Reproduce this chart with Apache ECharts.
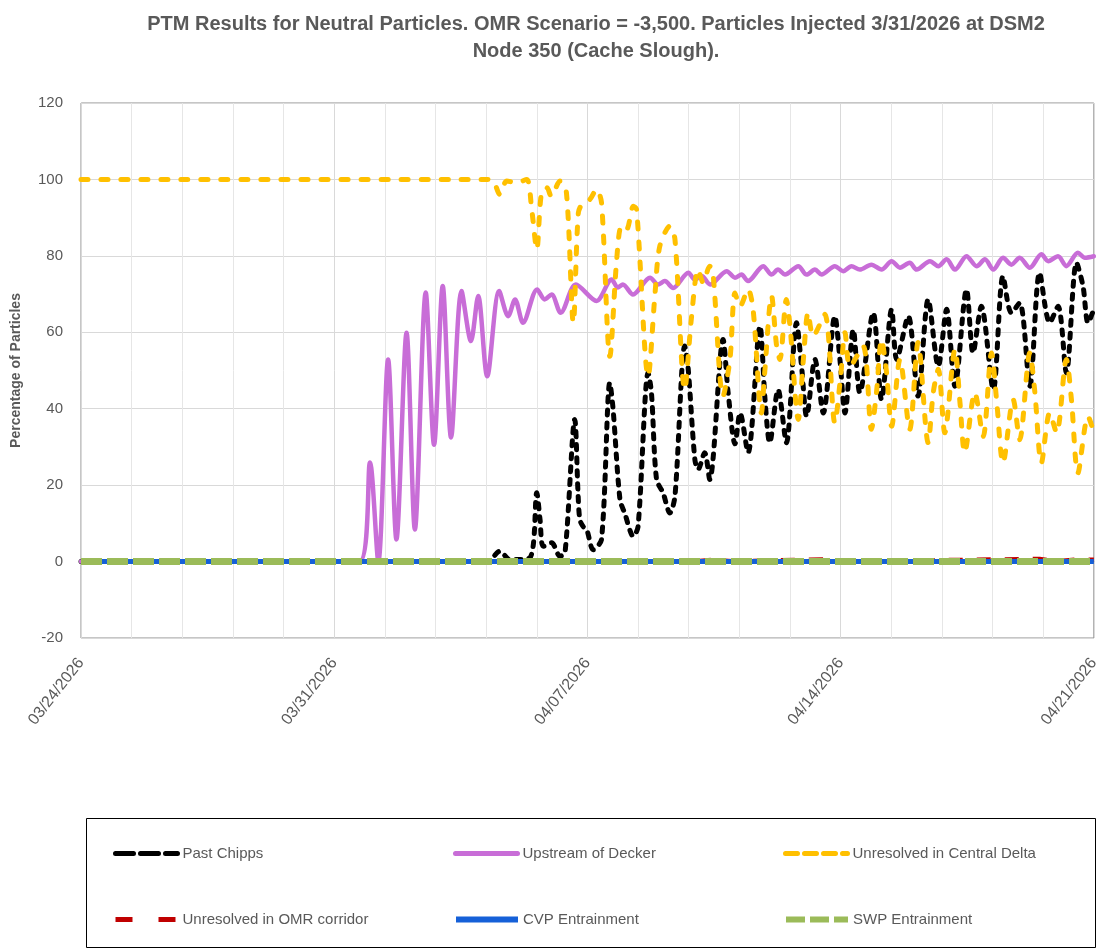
<!DOCTYPE html>
<html>
<head>
<meta charset="utf-8">
<title>PTM Results - Cache Slough</title>
<script src="https://cdn.jsdelivr.net/npm/echarts@6/dist/echarts.min.js"></script>
<style>
  html, body { margin: 0; padding: 0; background: #fff; }
  #chart { width: 1102px; height: 950px; }
</style>
</head>
<body>
<div id="chart"></div>
<script>
// days since 03/24/2026, percentage of particles
const startDate = [2026, 2, 24]

const chippsDay = [0, 11.2, 11.35, 11.58, 11.86, 12.41, 12.6, 12.69, 12.78, 13.01, 13.24, 13.38, 13.65, 13.74, 13.79, 13.88, 13.98, 14.16, 14.39, 14.62, 14.71, 14.9, 15.03, 15.27, 15.4, 15.68, 15.77, 15.91, 16.09, 16.28, 16.42, 16.69, 16.78, 16.97, 17.06, 17.24, 17.38, 17.75, 17.89, 18.08, 18.22, 18.44, 18.77, 18.91, 19.04, 19.27, 19.5, 19.78, 19.92, 20.06, 20.29, 20.52, 20.84, 20.98, 21.12, 21.35, 21.53, 21.9, 22.13, 22.41, 22.55, 22.87, 23.14, 23.42, 23.7, 23.93, 24.16, 24.48, 24.66, 24.89, 25.22, 25.49, 25.72, 25.95, 26.23, 26.5, 26.78, 27.01, 27.24, 27.52, 27.7, 27.84, 28]
const chippsPct = [0, 0, 0.8, 2.7, 0.5, 1.0, 18.0, 11.0, 4.0, 4.9, 1.4, 2.3, 37.2, 18.0, 11.0, 9.2, 8.4, 3.1, 5.8, 46.8, 39.8, 16.2, 12.7, 6.6, 9.2, 49.4, 44.2, 21.5, 18.0, 12.7, 17.1, 56.4, 51.1, 26.7, 24.1, 28.5, 21.5, 58.1, 44.2, 30.8, 38.9, 28.5, 61.6, 42.4, 31.1, 45.0, 31.1, 62.5, 51.1, 38.0, 52.9, 38.9, 64.2, 52.9, 38.9, 60.7, 44.2, 65.1, 42.4, 66.0, 52.9, 64.2, 43.3, 68.6, 51.1, 66.0, 45.9, 71.2, 54.6, 66.8, 45.0, 74.7, 65.1, 67.7, 45.9, 75.6, 62.5, 66.8, 49.4, 78.2, 72.1, 62.5, 66.0]

const deckerDay = [0, 7.7, 7.99, 8.22, 8.49, 8.72, 9.0, 9.23, 9.53, 9.76, 10.0, 10.23, 10.52, 10.78, 10.98, 11.23, 11.56, 11.81, 12.0, 12.22, 12.61, 12.82, 13.01, 13.26, 13.68, 14.25, 14.67, 14.84, 14.98, 15.26, 15.73, 15.95, 16.14, 16.37, 16.79, 16.97, 17.16, 17.39, 17.85, 18.08, 18.26, 18.44, 18.86, 19.09, 19.27, 19.46, 19.83, 20.06, 20.29, 20.47, 20.84, 21.07, 21.3, 21.53, 21.85, 22.13, 22.41, 22.64, 22.91, 23.1, 23.47, 23.7, 23.93, 24.16, 24.48, 24.76, 24.99, 25.22, 25.49, 25.72, 25.95, 26.23, 26.55, 26.74, 27.01, 27.24, 27.56, 27.75, 28]
const deckerPct = [0, 0, 25.9, 0, 52.9, 5.8, 59.9, 8.4, 70.4, 30.6, 72.1, 32.5, 70.8, 57.7, 69.5, 48.5, 70.8, 64.2, 68.6, 62.5, 71.2, 68.6, 69.9, 65.1, 72.5, 68.2, 73.8, 71.7, 72.5, 69.9, 74.3, 72.5, 73.4, 71.6, 75.6, 73.8, 74.7, 72.5, 76.0, 74.3, 75.1, 73.4, 77.3, 75.1, 76.4, 75.1, 77.3, 75.1, 76.4, 75.1, 77.3, 76.0, 77.3, 76.4, 77.7, 76.4, 78.6, 76.9, 78.2, 76.4, 78.6, 77.3, 79.1, 76.4, 79.9, 77.3, 79.1, 76.4, 79.5, 77.7, 79.5, 76.9, 80.4, 78.6, 79.9, 77.3, 80.8, 79.5, 79.9]

const centralDay = [0, 11.25, 11.4, 11.58, 11.77, 12.04, 12.32, 12.46, 12.6, 12.73, 12.88, 13.0, 13.24, 13.42, 13.61, 13.75, 13.88, 14.07, 14.25, 14.39, 14.62, 14.81, 14.94, 15.08, 15.27, 15.36, 15.68, 15.87, 16.0, 16.28, 16.42, 16.69, 16.88, 17.06, 17.2, 17.38, 17.47, 17.75, 17.94, 18.08, 18.22, 18.44, 18.58, 18.81, 18.9, 19.09, 19.23, 19.32, 19.5, 19.6, 19.83, 19.97, 20.1, 20.24, 20.56, 20.84, 21.0, 21.12, 21.26, 21.62, 21.85, 21.99, 22.13, 22.27, 22.41, 22.64, 22.91, 23.14, 23.42, 23.56, 23.7, 23.88, 24.16, 24.3, 24.43, 24.71, 24.94, 25.17, 25.31, 25.49, 25.77, 25.95, 26.23, 26.37, 26.55, 26.78, 26.97, 27.24, 27.38, 27.56, 27.84, 28]
const centralPct = [100, 100, 99.6, 96.1, 99.6, 99.1, 100, 92.1, 81.7, 96.5, 97.8, 95.6, 99.6, 96.5, 62.5, 91.3, 93.9, 94.8, 97.4, 93.9, 53.7, 79.1, 87.8, 86.9, 93.0, 92.1, 48.5, 70.3, 82.5, 87.8, 84.3, 45.0, 64.2, 76.4, 73.0, 77.3, 75.6, 43.3, 52.9, 70.3, 66.8, 71.2, 66.0, 38.9, 49.4, 69.5, 56.4, 52.9, 68.6, 61.6, 37.2, 52.9, 65.1, 59.0, 64.7, 36.3, 48.5, 59.9, 51.1, 56.4, 34.6, 44.2, 58.1, 49.4, 35.4, 52.9, 34.6, 57.3, 31.1, 44.2, 50.3, 33.7, 55.5, 41.5, 28.5, 44.2, 32.8, 54.6, 42.4, 25.8, 42.4, 31.9, 54.6, 44.2, 25.8, 38.9, 33.7, 52.9, 42.4, 23.2, 38.0, 33.7]

const omrDay = [0, 17, 17.5, 18, 20.5, 21, 21.2, 26.5, 27, 27.6, 28]
const omrPct = [0, 0, 0.4, 0, 0.5, 0, 0, 0.6, 0, 0.5, 0.4]
const cvpDay = [0, 28]
const cvpPct = [0, 0]
const swpDay = [0, 28]
const swpPct = [0, 0]

const pairs = (xs, ys) => xs.map((x, i) => [x, ys[i]])

function dayLabel (v) {
  const d = new Date(startDate[0], startDate[1], startDate[2] + v)
  const mm = String(d.getMonth() + 1).padStart(2, '0')
  const dd = String(d.getDate()).padStart(2, '0')
  return mm + '/' + dd + '/' + d.getFullYear()
}

const chart = echarts.init(document.getElementById('chart'), null, { renderer: 'canvas' })
const font = 'Liberation Sans'
const grey = '#595959'

// one legend per entry so the 3x2 layout of the reference can be kept
function legendAt (name, left, top, width, type) {
  return {
    data: [name],
    left: left,
    top: top,
    itemWidth: 62,
    itemHeight: 10,
    itemGap: 0,
    selectedMode: false,
    padding: 0,
    itemStyle: { color: 'rgba(0,0,0,0)', borderColor: 'rgba(0,0,0,0)', borderWidth: 0, opacity: 0 },
    lineStyle: { width: width, type: type },
    textStyle: { color: grey, fontSize: 15, fontFamily: font },
  }
}

const option = {
  animation: false,
  backgroundColor: '#fff',
  title: {
    text: 'PTM Results for Neutral Particles. OMR Scenario = -3,500. Particles Injected 3/31/2026 at DSM2\nNode 350 (Cache Slough).',
    left: 591,
    top: 6,
    textAlign: 'center',
    textStyle: { color: grey, fontSize: 20, fontWeight: 'bold', fontFamily: font, lineHeight: 27 },
  },
  grid: {
    left: 81, right: 8, top: 103, bottom: 312,
    show: true, borderColor: '#8c8c8c', borderWidth: 1,
  },
  graphic: [{
    type: 'rect',
    shape: { x: 86.5, y: 818.5, width: 1009, height: 129 },
    style: { fill: 'none', stroke: '#000', lineWidth: 1 },
    z: 100,
  }],
  legend: [
    legendAt('Past Chipps', 113, 846, 5, [18, 7]),
    legendAt('Upstream of Decker', 453, 846, 5, 'solid'),
    legendAt('Unresolved in Central Delta', 783, 846, 5, [12, 7]),
    legendAt('Unresolved in OMR corridor', 113, 912, 5, [17, 26]),
    legendAt('CVP Entrainment', 453, 912, 6, 'solid'),
    legendAt('SWP Entrainment', 783, 912, 6, [19, 5]),
  ],
  xAxis: {
    type: 'value',
    min: 0,
    max: 28,
    interval: 7,
    axisLine: { show: true, lineStyle: { color: '#a6a6a6' } },
    axisTick: { show: false },
    minorTick: { show: false, splitNumber: 5 },
    minorSplitLine: { show: true, lineStyle: { color: '#e6e6e6' } },
    splitLine: { show: true, lineStyle: { color: '#d9d9d9' } },
    axisLabel: {
      formatter: dayLabel,
      rotate: 52,
      margin: 22,
      color: grey,
      fontSize: 16,
      fontFamily: font,
      showMinLabel: true,
      showMaxLabel: true,
    },
  },
  yAxis: {
    type: 'value',
    min: -20,
    max: 120,
    interval: 20,
    name: 'Percentage of Particles',
    nameLocation: 'middle',
    nameGap: 58,
    nameTextStyle: { color: grey, fontSize: 14, fontWeight: 'bold', fontFamily: font },
    axisLine: { show: true, lineStyle: { color: '#d9d9d9' } },
    axisTick: { show: false },
    splitLine: { lineStyle: { color: '#d9d9d9' } },
    axisLabel: { color: grey, fontSize: 15, fontFamily: font, margin: 18 },
  },
  series: [
    {
      name: 'Past Chipps',
      type: 'line',
      data: pairs(chippsDay, chippsPct),
      symbol: 'none',
      smooth: 0.3,
      color: '#000000',
      lineStyle: { width: 5, type: [5, 8], cap: 'round', join: 'round' },
    },
    {
      name: 'Upstream of Decker',
      type: 'line',
      data: pairs(deckerDay, deckerPct),
      symbol: 'none',
      smooth: 0.3,
      color: '#C86DD7',
      lineStyle: { width: 4.5, cap: 'round', join: 'round' },
    },
    {
      name: 'Unresolved in Central Delta',
      type: 'line',
      data: pairs(centralDay, centralPct),
      symbol: 'none',
      smooth: 0.3,
      color: '#FFC000',
      lineStyle: { width: 5, type: [7, 13], cap: 'round', join: 'round' },
    },
    {
      name: 'Unresolved in OMR corridor',
      type: 'line',
      data: pairs(omrDay, omrPct),
      symbol: 'none',
      color: '#C00000',
      lineStyle: { width: 5, type: [14, 14] },
    },
    {
      name: 'CVP Entrainment',
      type: 'line',
      data: pairs(cvpDay, cvpPct),
      symbol: 'none',
      color: '#1560D8',
      lineStyle: { width: 5 },
    },
    {
      name: 'SWP Entrainment',
      type: 'line',
      data: pairs(swpDay, swpPct),
      symbol: 'none',
      color: '#9BBB59',
      lineStyle: { width: 7, type: [21, 5] },
    },
  ],
}

chart.setOption(option)
</script>
</body>
</html>
